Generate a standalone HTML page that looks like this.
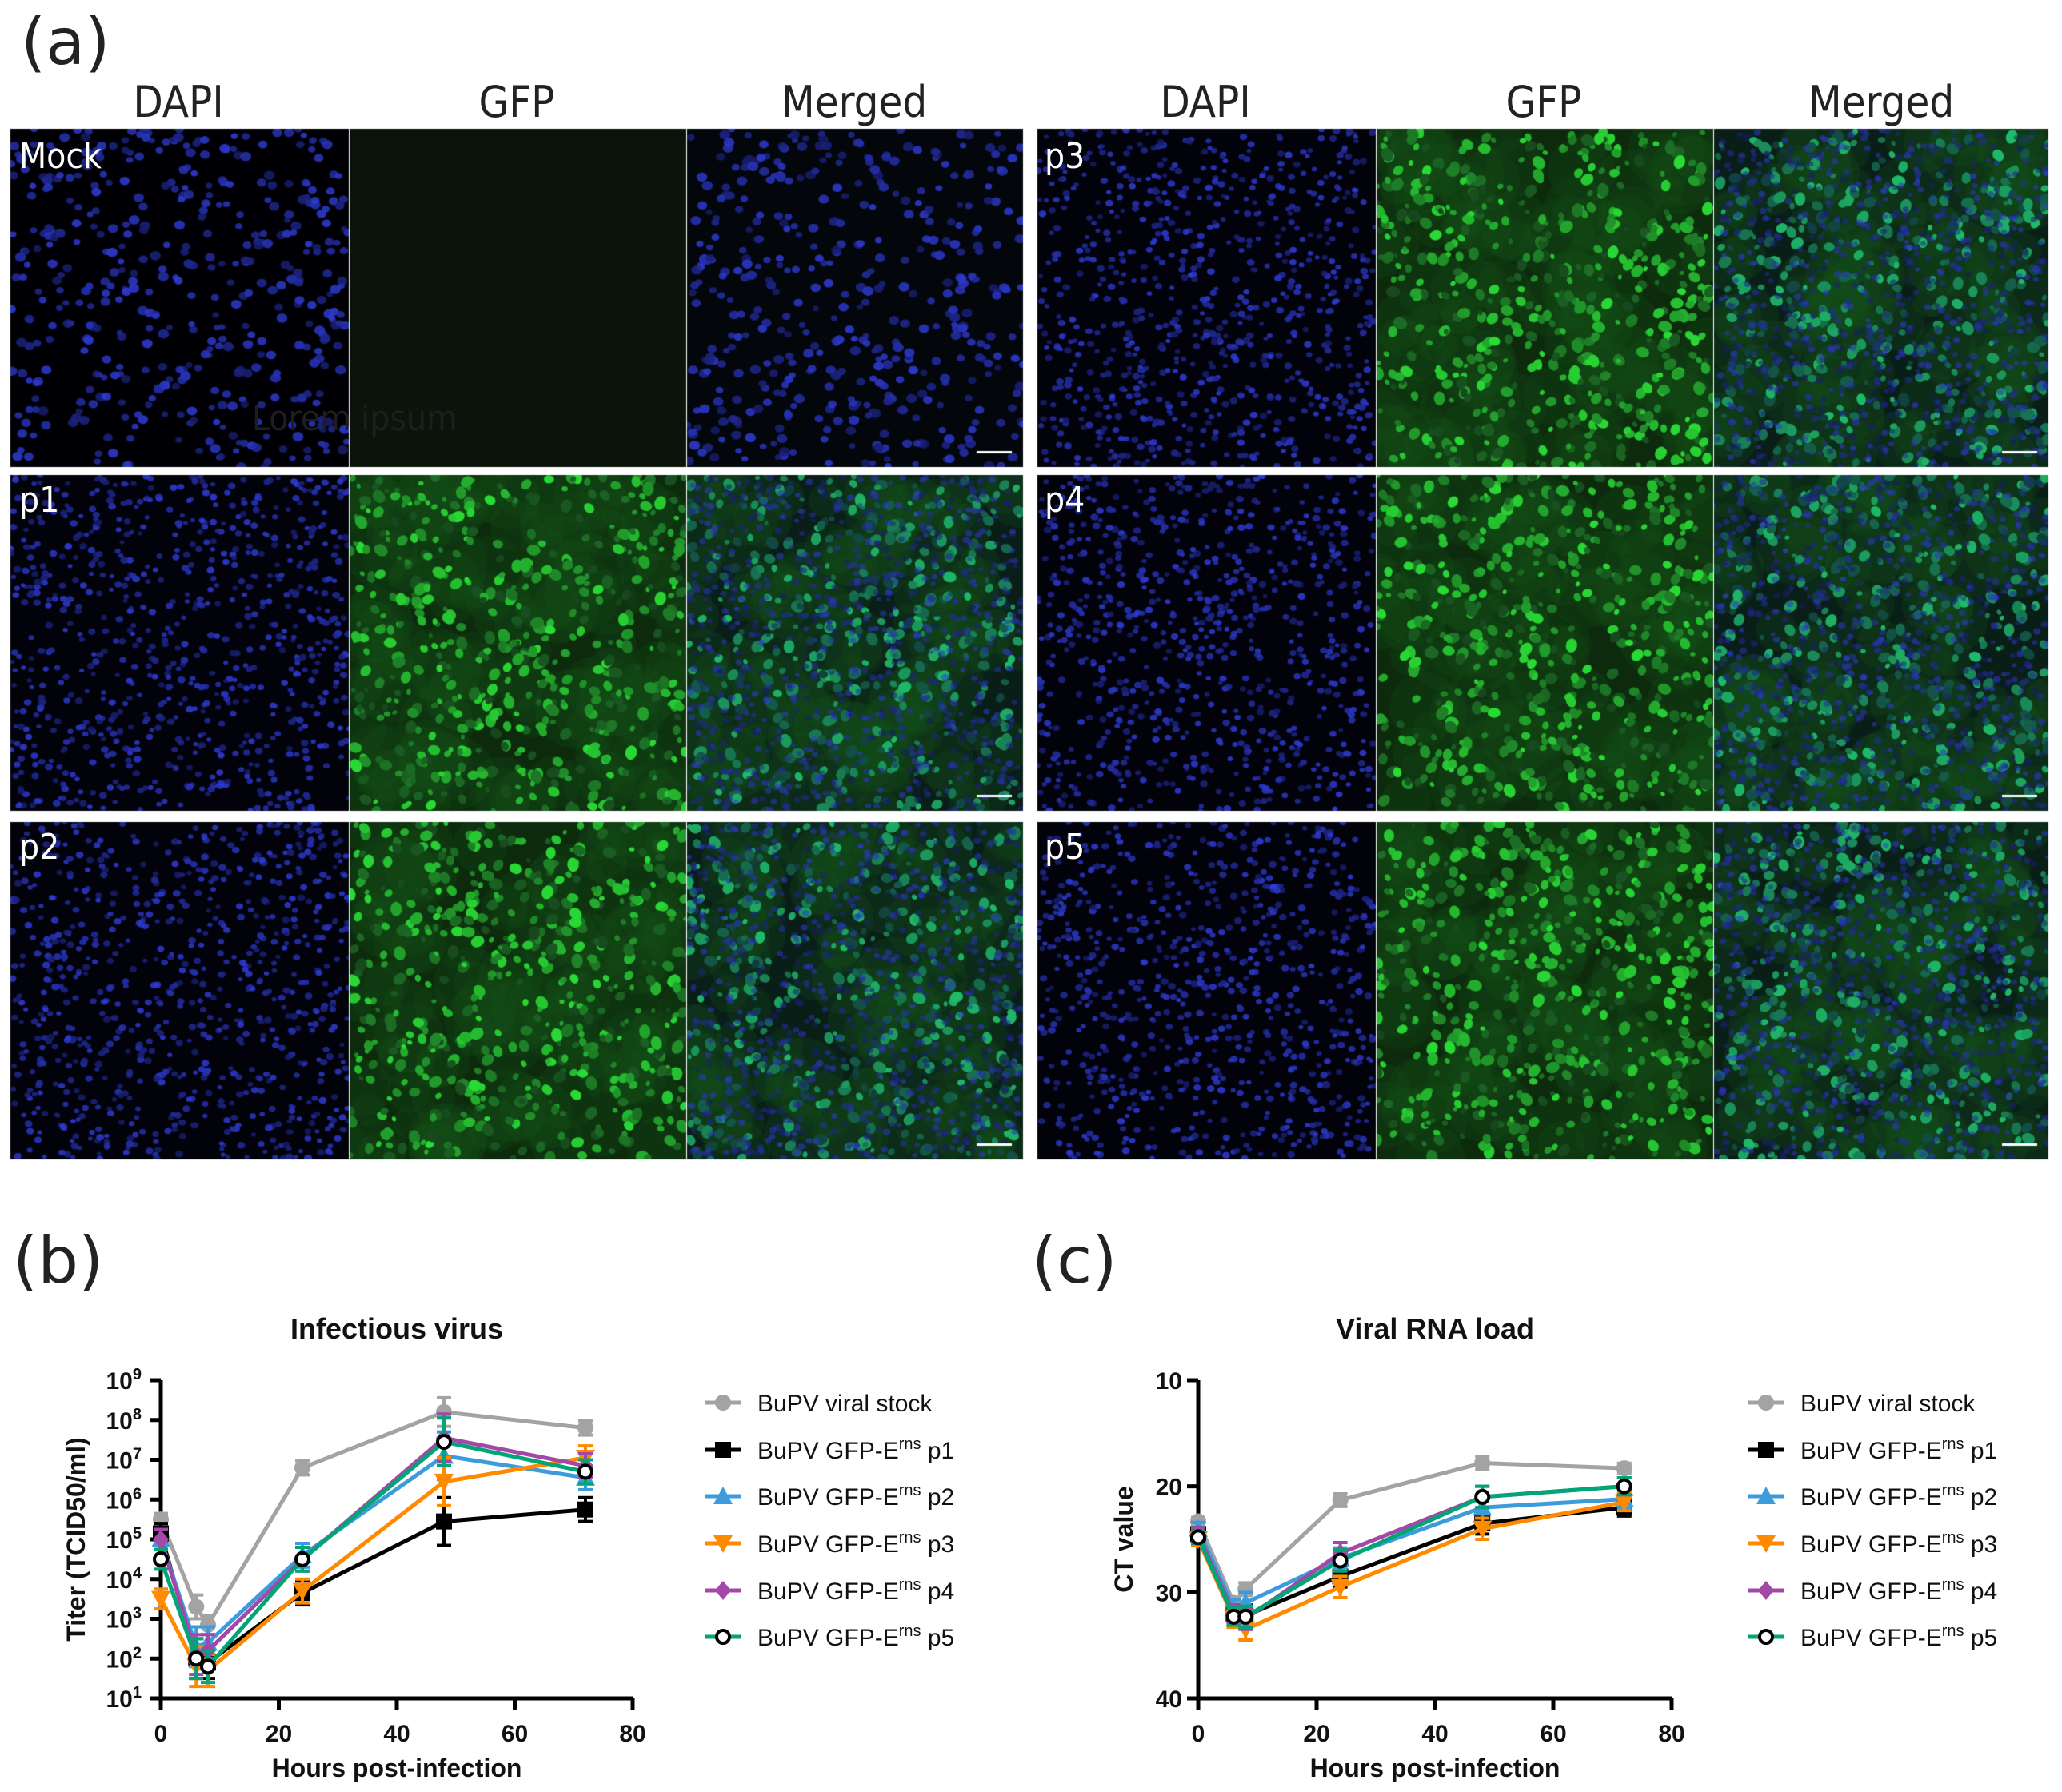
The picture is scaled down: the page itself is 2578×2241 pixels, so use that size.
<!DOCTYPE html>
<html><head><meta charset="utf-8">
<style>
html,body{margin:0;padding:0;background:#fff;}
#root{position:relative;width:2578px;height:2241px;overflow:hidden;font-family:"Liberation Sans",sans-serif;}
.lbl{position:absolute;color:#222;font-family:"DejaVu Sans","Liberation Sans",sans-serif;}
.hdr{position:absolute;top:96px;font-size:54px;color:#222;text-align:center;width:420px;font-family:"DejaVu Sans Condensed","DejaVu Sans",sans-serif;}
.plabel{position:absolute;color:#fff;font-size:44px;font-family:"DejaVu Sans Condensed","DejaVu Sans",sans-serif;}
canvas{position:absolute;left:0;top:0;}
svg{position:absolute;left:0;top:0;}
</style></head>
<body>
<div id="root">
<canvas id="micro" width="2578" height="1460"></canvas>
<div class="lbl" style="left:26px;top:6px;font-size:80px;">(a)</div>
<div class="hdr" style="left:13px">DAPI</div>
<div class="hdr" style="left:436px">GFP</div>
<div class="hdr" style="left:858px">Merged</div>
<div class="hdr" style="left:1297px">DAPI</div>
<div class="hdr" style="left:1720px">GFP</div>
<div class="hdr" style="left:2142px">Merged</div>
<div class="plabel" style="left:24px;top:170px">Mock</div>
<div class="plabel" style="left:24px;top:600px">p1</div>
<div class="plabel" style="left:24px;top:1034px">p2</div>
<div class="plabel" style="left:1306px;top:170px">p3</div>
<div class="plabel" style="left:1306px;top:600px">p4</div>
<div class="plabel" style="left:1306px;top:1034px">p5</div>
<div class="plabel" style="left:315px;top:498px;color:#1e1e1e;font-size:44px">Lorem ipsum</div>
<div class="lbl" style="left:16px;top:1530px;font-size:80px;">(b)</div>
<div class="lbl" style="left:1290px;top:1530px;font-size:80px;">(c)</div>
<svg id="charts" width="2578" height="2241"></svg>
</div>
<script>
// ---- chart data ----
const hours = [0, 6, 8, 24, 48, 72];
const seriesNames = ["BuPV viral stock","BuPV GFP-E","BuPV GFP-E","BuPV GFP-E","BuPV GFP-E","BuPV GFP-E"];
const seriesSuffix = ["","p1","p2","p3","p4","p5"];
// infectious virus titers, log10 TCID50/ml
const titerStock = [5.5, 3.3, 2.85, 6.8, 8.2, 7.8];
const titerP1 = [5.15, 2.0, 1.9, 3.65, 5.45, 5.75];
const titerP2 = [5.0, 2.3, 2.4, 4.6, 7.1, 6.55];
const titerP3 = [3.5, 1.8, 1.7, 3.7, 6.45, 7.05];
const titerP4 = [5.0, 2.1, 2.2, 4.5, 7.55, 6.85];
const titerP5 = [4.5, 2.0, 1.8, 4.5, 7.45, 6.7];
const titerErr = [0.25, 0.5, 0.4, 0.3, 0.6, 0.3];
// viral RNA load CT values
const ctStock = [23.3, 31.0, 29.7, 21.3, 17.8, 18.3];
const ctP1 = [24.5, 32.0, 32.2, 28.5, 23.5, 22.0];
const ctP2 = [24.0, 31.5, 31.0, 26.8, 22.0, 21.2];
const ctP3 = [25.0, 32.5, 33.5, 29.5, 24.0, 21.5];
const ctP4 = [24.5, 32.0, 32.5, 26.3, 21.0, 20.0];
const ctP5 = [24.8, 32.3, 32.3, 27.0, 21.0, 20.0];
const ctErr = [0.6, 0.8, 1.0, 1.0, 1.0, 0.8];
const xTicks = [0, 20, 40, 60, 80];
const titerTicks = [1,2,3,4,5,6,7,8,9];
const ctTicks = [10,20,30,40];

const colors = ["#a3a3a3","#000000","#3d9bdc","#ff8a00","#a347a8","#00a676"];
const shapes = ["circle","square","tri","tridown","diamond","ocircle"];

const NS="http://www.w3.org/2000/svg";
const svg=document.getElementById('charts');
function el(tag,attrs,parent){const e=document.createElementNS(NS,tag);for(const k in attrs)e.setAttribute(k,attrs[k]);(parent||svg).appendChild(e);return e;}

function marker(g,shape,x,y,c){
  const s=10;let m;
  if(shape==="circle") m=el('circle',{cx:x,cy:y,r:s,fill:c},g);
  else if(shape==="ocircle") m=el('circle',{cx:x,cy:y,r:s-2,fill:"#fff",stroke:"#000","stroke-width":4},g);
  else if(shape==="square") m=el('rect',{x:x-s,y:y-s,width:2*s,height:2*s,fill:c},g);
  else if(shape==="tri") m=el('polygon',{points:`${x},${y-s-2} ${x+s+2},${y+s} ${x-s-2},${y+s}`,fill:c},g);
  else if(shape==="tridown") m=el('polygon',{points:`${x},${y+s+2} ${x+s+2},${y-s} ${x-s-2},${y-s}`,fill:c},g);
  else m=el('polygon',{points:`${x},${y-s-2} ${x+s},${y} ${x},${y+s+2} ${x-s},${y}`,fill:c},g);
  return m;
}

function drawChart(cfg){
  const {x0,x1,yTop,yBot,vTop,vBot,series,err,ticks,tickLabel,title,ytitle,yTitleX,legendX,name}=cfg;
  const xs=v=>x0+(v-0)/(80-0)*(x1-x0);
  const ys=v=>yTop+(v-vTop)/(vBot-vTop)*(yBot-yTop);
  const g=el('g',{});
  
  
  const t=el('text',{x:(x0+x1)/2,y:yTop-52,'text-anchor':'middle','font-size':36,'font-weight':'bold',fill:'#111'},g);
  t.textContent=title;
  
  
  const ax=el('path',{d:`M${x0},${yTop} L${x0},${yBot} L${x1},${yBot}`,fill:'none',stroke:'#000','stroke-width':5},g);
  
  
  xTicks.forEach(v=>{
    el('line',{x1:xs(v),x2:xs(v),y1:yBot,y2:yBot+14,stroke:'#000','stroke-width':5},g);
    const tx=el('text',{x:xs(v),y:yBot+54,'text-anchor':'middle','font-size':30,'font-weight':'bold',fill:'#111'},g);
    tx.textContent=v;
    
    
  });
  ticks.forEach(v=>{
    el('line',{x1:x0-14,x2:x0,y1:ys(v),y2:ys(v),stroke:'#000','stroke-width':5},g);
    tickLabel(g,x0-20,ys(v),v);
  });
  const xt=el('text',{x:(x0+x1)/2,y:yBot+98,'text-anchor':'middle','font-size':32,'font-weight':'bold',fill:'#111'},g);
  xt.textContent='Hours post-infection';
  
  
  const cy=(yTop+yBot)/2;
  const yt=el('text',{x:yTitleX,y:cy,'text-anchor':'middle','font-size':32,'font-weight':'bold',fill:'#111',transform:`rotate(-90 ${yTitleX} ${cy})`},g);
  yt.textContent=ytitle;
  
  
  series.forEach((vals,si)=>{
    const sg=el('g',{},g);
    
    
    const c=si===5?'#00a676':colors[si];
    vals.forEach((v,i)=>{
      const e=err[i]*(si===0?0.6:1);
      const xx=xs(hours[i]);
      el('line',{x1:xx,x2:xx,y1:ys(v-e),y2:ys(v+e),stroke:c,'stroke-width':4},sg);
      el('line',{x1:xx-9,x2:xx+9,y1:ys(v-e),y2:ys(v-e),stroke:c,'stroke-width':4},sg);
      el('line',{x1:xx-9,x2:xx+9,y1:ys(v+e),y2:ys(v+e),stroke:c,'stroke-width':4},sg);
    });
    const ln=el('polyline',{points:vals.map((v,i)=>xs(hours[i])+','+ys(v)).join(' '),fill:'none',stroke:c,'stroke-width':5},sg);
    
    
    vals.forEach((v,i)=>{
      const m=marker(sg,shapes[si],xs(hours[i]),ys(v),colors[si]);
      
      
    });
  });
  const ly=[1754,1813,1871,1930,1989,2047];
  seriesNames.forEach((n,si)=>{
    const lg=el('g',{},g);
    
    
    const c=si===5?'#00a676':colors[si];
    el('line',{x1:legendX-22,x2:legendX+22,y1:ly[si],y2:ly[si],stroke:c,'stroke-width':5},lg);
    marker(lg,shapes[si],legendX,ly[si],colors[si]);
    const tx=el('text',{x:legendX+43,y:ly[si]+11,'font-size':30,fill:'#111'},lg);
    if(si===0){tx.textContent=n;}
    else{
      tx.appendChild(document.createTextNode(n));
      const sp=el('tspan',{dy:-12,'font-size':20},tx);sp.textContent='rns';
      const sp2=el('tspan',{dy:12},tx);sp2.textContent=' '+seriesSuffix[si];
    }
  });
}

drawChart({name:'chart-infectious-virus',x0:201,x1:791,yTop:1726,yBot:2124,vTop:9,vBot:1,
  series:[titerStock,titerP1,titerP2,titerP3,titerP4,titerP5],err:titerErr,ticks:titerTicks,
  tickLabel:(g,x,y,v)=>{const t=el('text',{x:x-4,y:y+11,'text-anchor':'end','font-size':30,'font-weight':'bold',fill:'#111'},g);
    t.appendChild(document.createTextNode('10'));const s=el('tspan',{dy:-12,'font-size':20},t);s.textContent=v;
    },
  title:'Infectious virus',ytitle:'Titer (TCID50/ml)',yTitleX:106,legendX:904});
drawChart({name:'chart-viral-rna-load',x0:1498,x1:2090,yTop:1726,yBot:2124,vTop:10,vBot:40,
  series:[ctStock,ctP1,ctP2,ctP3,ctP4,ctP5],err:ctErr,ticks:ctTicks,
  tickLabel:(g,x,y,v)=>{const t=el('text',{x:x,y:y+11,'text-anchor':'end','font-size':30,'font-weight':'bold',fill:'#111'},g);
    t.textContent=v;},
  title:'Viral RNA load',ytitle:'CT value',yTitleX:1416,legendX:2208});

// ---- microscopy (decorative texture) ----
const cv=document.getElementById('micro');const ctx=cv.getContext('2d');
let seed=12345;function rnd(){seed=(seed*16807)%2147483647;return seed/2147483647;}
const colX=[[13,436],[437,858],[859,1279],[1297,1720],[1721,2142],[2143,2561]];
const rowY=[[161,584],[594,1014],[1028,1450]];
function panel(x0,x1,y0,y1,type,dense){
  ctx.save();ctx.beginPath();ctx.rect(x0,y0,x1-x0,y1-y0);ctx.clip();
  const bg={mockgfp:'#0b140a',gfp:'#0d2a0d',merged:'#0a1e18',dapi:'#02020a',mockmerged:'#03060a',mockdapi:'#000004'}[type];
  ctx.fillStyle=bg;ctx.fillRect(x0,y0,x1-x0,y1-y0);
  const w=x1-x0,h=y1-y0;
  if(type==='gfp'||type==='merged'){
    // soft background haze
    for(let i=0;i<120;i++){const x=x0+rnd()*w,y=y0+rnd()*h,r=20+rnd()*30;
      ctx.fillStyle='rgba(20,80,25,0.25)';ctx.beginPath();ctx.arc(x,y,r,0,6.3);ctx.fill();}
    const n=type==='gfp'?550:420;
    for(let i=0;i<n;i++){const x=x0+rnd()*w,y=y0+rnd()*h,r=3+rnd()*6;
      const b=70+rnd()*150;
      ctx.fillStyle=type==='gfp'?`rgb(${15+b*0.12|0},${b|0},${20+b*0.15|0})`:`rgb(${10+b*0.1|0},${b*0.85|0},${40+b*0.3|0})`;
      ctx.beginPath();ctx.ellipse(x,y,r,r*0.8,rnd()*3,0,6.3);ctx.fill();}
  }
  if(type!=='gfp'&&type!=='mockgfp'){
    const n=dense?800:450;
    for(let i=0;i<n;i++){const x=x0+rnd()*w,y=y0+rnd()*h;
      const r=dense?3+rnd()*2:4+rnd()*3;const b=100+rnd()*120;
      const a=type==='merged'?0.55:0.85;
      ctx.fillStyle=`rgba(${b*0.22|0},${b*0.28|0},${b|0},${a})`;
      ctx.beginPath();ctx.ellipse(x,y,r,r*0.85,0,0,6.3);ctx.fill();}
  }
  ctx.restore();
}
for(let r=0;r<3;r++)for(let c=0;c<6;c++){
  const [x0,x1]=colX[c],[y0,y1]=rowY[r];const k=c%3;
  const mock=(r===0&&c<3);
  let type=k===0?(mock?'mockdapi':'dapi'):(k===1?(mock?'mockgfp':'gfp'):(mock?'mockmerged':'merged'));
  panel(x0,x1,y0,y1,type,!mock);
  if(k===2){ctx.fillStyle='#fff';ctx.fillRect(x1-58,y1-20,44,3);}
}
</script>
</body></html>
